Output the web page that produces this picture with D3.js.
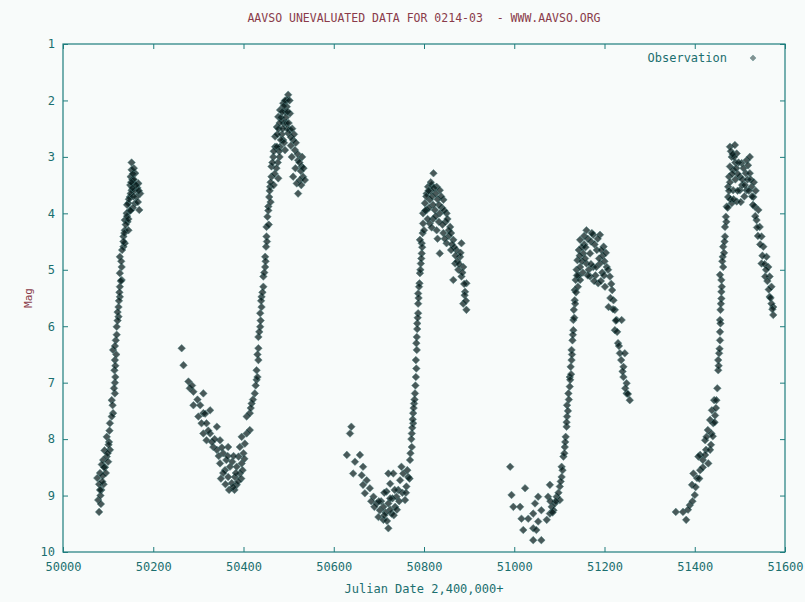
<!DOCTYPE html>
<html><head><meta charset="utf-8">
<script src="https://cdn.jsdelivr.net/npm/d3@7"></script>
<style>
html,body{margin:0;padding:0;background:#f8fbfa;}
text{font-family:"DejaVu Sans Mono",monospace;white-space:pre;}
</style></head>
<body><svg id="c" width="805" height="602"></svg>
<script>
const titleText = "AAVSO UNEVALUATED DATA FOR 0214-03  - WWW.AAVSO.ORG";
const xLabel = "Julian Date 2,400,000+";
const yLabel = "Mag";
const legendLabel = "Observation";
const xTicks = [50000,50200,50400,50600,50800,51000,51200,51400,51600];
const yTicks = [1,2,3,4,5,6,7,8,9,10];

// [Julian date, magnitude]
const cycle1 = [[50080,9.29],[50078,9.08],[50076,8.69],[50082,8.6],[50089,8.37],[50097,8.31],[50104,8.19],[50097,7.96],[50104,7.72],[50111,7.54],[50108,7.31],[50115,7.19],[50115,7.0],[50114,6.78],[50115,6.6],[50111,6.42],[50117,6.25],[50119,6.01],[50123,5.83],[50123,5.66],[50126,5.48],[50126,5.3],[50130,5.18],[50126,5.06],[50130,4.95],[50126,4.77],[50134,4.59],[50134,4.41],[50137,4.3],[50137,4.12],[50141,4.0],[50145,3.82],[50148,3.71],[50152,3.59],[50156,3.47],[50150,3.35],[50152,3.23],[50152,3.1],[50160,3.29],[50167,3.47],[50171,3.65],[50169,3.94],[50160,3.82],[50163,3.71],[50145,4.3],[50137,4.53],[50085,8.9],[50090,8.8],[50083,9.0],[50093,8.5],[50086,8.45],[50095,8.6],[50100,8.4],[50092,8.2],[50102,8.05],[50080,8.8],[50084,9.15],[50088,8.65],[50155,3.9],[50158,3.6],[50148,3.95],[50143,4.15],[50165,3.55],[50154,3.4],
 [50082,8.9],[50087,8.75],[50091,8.5],[50099,8.25],[50101,8.1],[50103,7.85],[50108,7.6],[50110,7.4],[50113,7.1],[50116,6.9],[50116,6.7],[50118,6.5],[50115,6.35],[50119,6.15],[50121,5.9],[50121,5.75],[50124,5.55],[50125,5.4],[50128,5.2],[50129,4.85],[50131,4.65],[50134,4.5],[50136,4.35],[50139,4.2],[50142,4.05],[50142,3.85],[50146,3.75],[50150,3.65],[50149,3.5],[50157,3.4],[50155,3.3],[50157,3.2],[50162,3.5],[50168,3.6],[50166,3.8],[50156,3.7],[50154,3.55],[50151,3.45],[50150,3.95],[50145,4.1]];

const cycle2 = [[50263,6.39],[50267,6.69],[50278,6.98],[50281,7.1],[50289,7.16],[50311,7.19],[50289,7.4],[50304,7.4],[50311,7.54],[50326,7.49],[50307,7.72],[50318,7.72],[50311,7.9],[50326,7.9],[50341,7.78],[50318,8.02],[50333,8.14],[50348,8.02],[50341,8.19],[50355,8.25],[50366,8.14],[50362,8.37],[50348,8.43],[50370,8.49],[50359,8.55],[50366,8.67],[50374,8.78],[50385,8.81],[50381,8.67],[50392,8.61],[50385,8.49],[50396,8.43],[50389,8.31],[50400,8.25],[50392,8.14],[50403,8.08],[50396,7.96],[50407,7.9],[50414,7.84],[50407,7.6],[50414,7.54],[50418,7.37],[50425,7.19],[50429,6.95],[50429,6.78],[50433,6.6],[50433,6.39],[50433,6.19],[50437,6.01],[50437,5.77],[50440,5.66],[50440,5.48],[50444,5.3],[50444,5.12],[50448,4.95],[50448,4.77],[50450,4.59],[50451,4.41],[50451,4.24],[50453,4.06],[50455,3.88],[50457,3.71],[50459,3.53],[50462,3.35],[50462,3.17],[50466,3.0],[50470,2.82],[50470,2.64],[50474,2.47],[50477,2.29],[50481,2.17],[50488,2.05],[50499,1.9],[50496,2.11],[50503,2.23],[50490,2.41],[50503,2.52],[50488,2.7],[50481,2.82],[50510,2.7],[50514,2.88],[50521,3.06],[50529,3.17],[50532,3.35],[50525,3.41],[50521,3.65],[50536,3.41],[50518,3.47],[50477,3.38],[50492,2.88],[50507,3.0],[50499,2.58],[50474,2.82],[50485,2.35],[50492,2.2],[50496,1.99],[50355,8.6],[50375,8.4],[50380,8.9],[50365,8.3],[50345,8.3],[50330,8.05],[50395,8.7],[50300,7.6],[50485,2.6],[50495,2.4],[50505,2.8],
 [50475,2.6],[50478,2.5],[50480,2.4],[50483,2.3],[50486,2.2],[50489,2.1],[50492,2.0],[50494,2.3],[50497,2.5],[50500,2.4],[50502,2.0],[50498,2.2],[50487,2.5],[50483,2.7],[50479,2.9],[50476,3.1],[50473,3.2],[50469,3.3],[50467,3.5],[50480,3.0],[50490,2.75],[50505,2.65],[50508,2.5],[50512,2.6],[50516,2.75],[50520,2.95],[50524,3.1],[50527,3.25],[50530,3.0],[50533,3.2],[50528,3.5],[50510,3.35],[50515,3.2],
 [50455,3.95],[50458,3.6],[50460,3.45],[50464,3.1],[50467,2.9],[50460,3.8],[50456,4.2],[50452,4.5],[50449,4.85],[50446,5.05],[50442,5.4],[50439,5.55],[50438,5.9],[50435,6.1],[50431,6.5],[50431,6.9],[50427,7.05],[50421,7.3],[50416,7.45],
 [50350,8.7],[50360,8.8],[50368,8.9],[50377,8.85],[50383,8.6],[50388,8.75],[50398,8.55],[50402,8.35],[50378,8.3],[50352,8.15],[50336,8.0],[50322,7.85],[50315,7.55],[50298,7.3],[50286,7.05]];

const cycle3 = [[50639,7.78],[50636,7.9],[50629,8.28],[50658,8.28],[50647,8.4],[50643,8.61],[50665,8.49],[50662,8.64],[50673,8.73],[50665,8.81],[50680,8.87],[50669,8.96],[50688,9.02],[50695,9.14],[50702,9.26],[50699,9.38],[50710,9.43],[50721,9.58],[50710,9.2],[50721,9.14],[50717,8.93],[50725,8.79],[50721,8.61],[50732,8.61],[50728,9.32],[50736,9.2],[50739,9.02],[50743,8.9],[50747,8.73],[50754,8.61],[50758,9.08],[50761,8.84],[50750,8.49],[50765,8.67],[50769,8.37],[50773,8.14],[50773,7.9],[50776,7.72],[50776,7.54],[50778,7.37],[50780,7.19],[50782,6.9],[50782,6.6],[50784,6.42],[50784,6.19],[50785,5.95],[50787,5.77],[50787,5.6],[50787,5.42],[50790,5.24],[50791,5.06],[50793,4.89],[50795,4.71],[50795,4.53],[50797,4.35],[50798,4.18],[50798,4.0],[50802,3.82],[50806,3.65],[50809,3.53],[50821,3.29],[50817,3.5],[50828,3.53],[50835,3.59],[50843,3.76],[50813,3.76],[50806,3.94],[50824,3.94],[50835,4.0],[50850,4.0],[50813,4.18],[50828,4.3],[50843,4.35],[50858,4.24],[50865,4.47],[50850,4.53],[50835,4.71],[50872,4.65],[50883,4.53],[50880,4.77],[50869,4.89],[50887,4.95],[50876,5.0],[50883,5.12],[50865,5.18],[50894,5.24],[50891,5.39],[50887,5.6],[50894,5.71],[50791,4.47],[50715,9.3],[50730,9.05],[50705,9.1],[50815,3.6],[50840,3.9],[50855,4.3],[50820,4.1],
 [50805,3.7],[50810,3.6],[50815,3.45],[50818,3.7],[50822,3.55],[50826,3.65],[50830,3.75],[50833,3.85],[50838,3.7],[50845,3.95],[50848,4.15],[50852,4.1],[50855,4.4],[50860,4.35],[50862,4.55],[50867,4.6],[50870,4.75],[50874,4.85],[50878,4.9],[50881,4.7],[50885,5.05],[50889,5.25],[50826,4.05],[50820,3.85],[50811,3.9],[50808,4.1],[50833,4.15],[50841,4.2],[50846,4.45],[50800,4.3],[50803,3.95],[50817,4.25],[50830,4.45],[50860,4.65],[50890,5.45],[50893,5.55],
 [50796,4.6],[50794,4.8],[50792,5.0],[50789,5.3],[50788,5.5],[50786,5.85],[50785,6.05],[50783,6.3],[50783,6.75],[50781,7.05],[50779,7.3],[50777,7.45],[50775,7.65],[50774,7.8],[50772,8.0],[50770,8.25],
 [50690,9.2],[50700,9.1],[50712,9.35],[50718,9.45],[50725,9.25],[50733,9.35],[50740,9.25],[50745,9.1],[50752,8.95],[50760,8.95],[50763,8.55],[50768,8.7],[50735,8.9],[50725,9.05],[50712,8.95],[50683,9.1]];

const cycle4 = [[50991,8.49],[50994,8.99],[50998,9.2],[51024,8.87],[51013,9.2],[51016,9.41],[51020,9.61],[51031,9.41],[51042,9.32],[51053,9.02],[51046,9.14],[51042,9.58],[51049,9.61],[51042,9.79],[51060,9.79],[51053,9.46],[51060,9.26],[51072,9.43],[51079,9.32],[51075,9.02],[51079,8.81],[51083,9.2],[51087,9.26],[51090,9.14],[51094,9.02],[51101,9.08],[51101,8.84],[51105,8.67],[51105,8.49],[51109,8.31],[51112,8.14],[51114,7.96],[51116,7.78],[51117,7.6],[51117,7.4],[51120,7.19],[51123,7.07],[51123,6.9],[51125,6.72],[51127,6.6],[51127,6.42],[51129,6.25],[51131,6.07],[51131,5.89],[51132,5.71],[51134,5.54],[51134,5.36],[51136,5.18],[51138,5.0],[51140,4.83],[51143,4.65],[51146,4.47],[51160,4.3],[51175,4.38],[51190,4.38],[51153,4.71],[51168,4.71],[51183,4.65],[51198,4.59],[51146,4.95],[51160,4.89],[51175,4.95],[51190,4.89],[51205,4.95],[51146,5.18],[51168,5.12],[51186,5.24],[51212,5.12],[51201,5.3],[51217,5.36],[51220,5.54],[51209,5.66],[51223,5.71],[51227,5.89],[51223,6.07],[51238,5.89],[51230,6.3],[51234,6.48],[51245,6.48],[51242,6.72],[51242,6.9],[51249,7.01],[51249,7.19],[51256,7.31],[51155,4.55],[51165,5.0],[51180,5.1],[51195,5.05],[51150,4.85],
 [51150,4.6],[51155,4.4],[51158,4.6],[51163,4.45],[51170,4.5],[51172,4.35],[51178,4.55],[51185,4.45],[51188,4.8],[51193,4.65],[51196,4.75],[51200,4.85],[51203,4.7],[51208,5.0],[51152,5.05],[51157,4.8],[51163,5.1],[51170,4.9],[51177,5.2],[51182,4.95],[51192,5.2],[51199,5.1],[51145,4.75],[51143,5.1],[51141,5.3],[51213,5.5],[51215,5.25],[51219,5.7],[51225,5.9],[51228,6.1],[51232,6.35],[51237,6.6],[51240,6.8],[51246,7.1],[51252,7.2],
 [51139,5.1],[51137,5.4],[51135,5.6],[51133,5.85],[51130,6.15],[51128,6.5],[51126,6.85],[51124,6.95],[51121,7.3],[51119,7.5],[51116,7.7],[51113,8.05],[51111,8.25],[51107,8.55],[51103,8.75],
 [51098,8.95],[51092,9.1],[51085,9.3],[51080,9.1]];

const cycle5 = [[51358,9.29],[51374,9.29],[51381,9.43],[51389,9.17],[51400,8.99],[51394,8.81],[51405,8.69],[51412,8.55],[51418,8.37],[51412,8.28],[51425,8.19],[51423,8.02],[51429,7.84],[51434,7.66],[51438,7.49],[51443,7.31],[51397,8.61],[51408,8.31],[51423,8.28],[51430,8.43],[51434,8.19],[51426,7.96],[51437,7.9],[51441,7.72],[51445,7.58],[51448,7.31],[51452,6.78],[51452,6.6],[51454,6.48],[51456,6.25],[51456,6.1],[51456,5.89],[51457,5.71],[51459,5.51],[51459,5.39],[51459,5.18],[51456,5.09],[51463,4.95],[51462,4.77],[51463,4.59],[51467,4.41],[51467,4.24],[51469,4.06],[51471,3.88],[51474,3.71],[51474,3.53],[51476,3.35],[51478,3.17],[51482,3.0],[51478,2.82],[51489,2.79],[51493,2.94],[51485,3.23],[51485,3.59],[51482,3.82],[51493,3.79],[51500,3.59],[51504,3.11],[51500,3.35],[51515,3.06],[51522,3.0],[51513,3.29],[51522,3.29],[51515,3.59],[51526,3.53],[51530,3.71],[51533,3.88],[51541,3.94],[51537,4.12],[51544,4.24],[51548,4.41],[51552,4.59],[51559,4.77],[51548,4.89],[51563,4.95],[51566,5.12],[51570,5.3],[51566,5.48],[51574,5.66],[51574,5.8],[51570,5.6],[51556,5.12],[51490,3.1],[51505,3.5],[51495,3.3],[51510,3.7],
 [51480,2.9],[51483,3.3],[51487,3.0],[51490,3.4],[51492,3.2],[51495,3.6],[51497,3.1],[51502,3.8],[51506,3.4],[51508,3.2],[51511,3.5],[51517,3.4],[51520,3.6],[51524,3.4],[51527,3.7],[51473,3.9],[51476,3.6],[51479,3.75],[51486,3.75],[51478,3.45],[51484,2.95],[51518,3.15],[51529,3.85],[51534,4.05],[51538,4.25],[51540,4.4],[51545,4.55],[51550,4.75],[51555,4.9],[51558,5.0],[51561,5.2],[51564,5.35],[51568,5.5],[51572,5.7],[51535,3.6],[51531,3.45],
 [51470,4.15],[51466,4.5],[51465,4.7],[51461,4.85],[51460,5.3],[51458,5.6],[51457,5.95],[51455,6.4],[51453,6.7],[51450,7.1],[51447,7.45],[51444,7.7],[51440,7.95],[51436,8.1],
 [51418,8.5],[51410,8.7],[51402,8.85],[51395,9.1],[51385,9.25]];

const observations = [].concat(cycle1, cycle2, cycle3, cycle4, cycle5);

const svg = d3.select("#c");
const x = d3.scaleLinear().domain([50000,51600]).range([63,785]);
const y = d3.scaleLinear().domain([1,10]).range([44,552]);
const axisColor = "#1f7d7d";
const textColor = "#1b6f6f";

svg.append("text").attr("x",424).attr("y",22).attr("text-anchor","middle")
  .attr("font-size",11.5).attr("fill","#8a3b4a").text(titleText);

function styleAxis(g, labels){
  g.select(".domain").remove();
  g.selectAll(".tick line").attr("stroke",axisColor);
  g.selectAll(".tick text").attr("fill",textColor).attr("font-size",12)
    .attr("font-family","DejaVu Sans Mono, monospace");
  if(!labels) g.selectAll(".tick text").remove();
}
svg.append("g").attr("transform","translate(63,0)")
  .call(d3.axisLeft(y).tickValues(yTicks).tickFormat(d3.format("d")).tickSize(-5).tickPadding(8))
  .call(g=>styleAxis(g,true));
svg.append("g").attr("transform","translate(785,0)")
  .call(d3.axisRight(y).tickValues(yTicks).tickSize(-5))
  .call(g=>styleAxis(g,false));
svg.append("g").attr("transform","translate(0,552)")
  .call(d3.axisBottom(x).tickValues(xTicks).tickFormat(d3.format("d")).tickSize(-5).tickPadding(10))
  .call(g=>styleAxis(g,true));
svg.append("g").attr("transform","translate(0,44)")
  .call(d3.axisTop(x).tickValues(xTicks).tickSize(-5))
  .call(g=>styleAxis(g,false));

svg.append("rect").attr("x",63).attr("y",44).attr("width",722).attr("height",508)
  .attr("fill","none").attr("stroke",axisColor).attr("stroke-width",1.2);

svg.append("text").attr("x",424).attr("y",593).attr("text-anchor","middle")
  .attr("font-size",12).attr("fill",textColor).text(xLabel);
svg.append("text").attr("transform","translate(32,298) rotate(-90)").attr("text-anchor","middle")
  .attr("font-size",11).attr("fill","#8a3b4a").text(yLabel);

const diamond = "M0,-3.8L3.8,0L0,3.8L-3.8,0Z";
svg.append("g").selectAll("path").data(observations).join("path")
  .attr("d",diamond)
  .attr("transform",d=>`translate(${x(d[0])},${y(d[1])})`)
  .attr("fill","#061a1a").attr("fill-opacity",0.72)
  .attr("stroke","#4f8080").attr("stroke-width",0.7).attr("stroke-opacity",0.7);

svg.append("text").attr("x",727).attr("y",62).attr("text-anchor","end")
  .attr("font-size",12).attr("fill",textColor).text(legendLabel);
svg.append("path").attr("d",diamond).attr("transform","translate(753,58) scale(0.8)")
  .attr("fill","#0e2a2a").attr("fill-opacity",0.5).attr("stroke","#5e8f8f").attr("stroke-width",0.6);
</script></body></html>
